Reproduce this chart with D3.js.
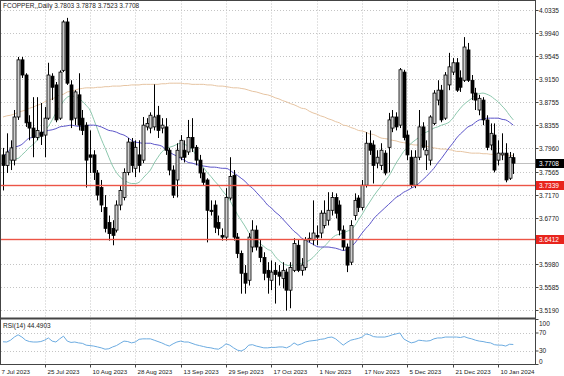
<!DOCTYPE html>
<html>
<head>
<meta charset="utf-8">
<style>
    body { margin: 0; background: #fff; }
    svg { display: block; font-family: "Liberation Sans", Arial, sans-serif; }
</style>
</head>
<body>
<script src="https://cdn.jsdelivr.net/npm/d3@7"></script>
<script>

// daily bars, oldest first
var opens = [3.785,3.767,3.776,3.776,3.850,3.948,3.922,3.841,3.831,3.815,
    3.824,3.819,3.848,3.920,3.905,3.848,3.930,4.013,3.905,3.848,
    3.888,3.848,3.836,3.785,3.785,3.754,3.729,3.695,3.669,3.659,
    3.656,3.699,3.712,3.755,3.807,3.762,3.785,3.776,3.833,3.831,
    3.833,3.853,3.831,3.833,3.793,3.759,3.742,3.781,3.793,3.790,
    3.815,3.798,3.776,3.754,3.742,3.690,3.699,3.669,3.647,3.644,
    3.711,3.750,3.644,3.616,3.582,3.570,3.627,3.656,3.627,3.609,
    3.587,3.570,3.587,3.584,3.573,3.584,3.553,3.587,3.630,3.587,
    3.592,3.639,3.639,3.647,3.651,3.664,3.673,3.690,3.712,3.699,
    3.656,3.627,3.601,3.681,3.711,3.695,3.733,3.805,3.802,3.771,
    3.767,3.788,3.798,3.831,3.850,3.836,3.927,3.819,3.781,3.733,
    3.781,3.833,3.785,3.776,3.839,3.879,3.896,3.848,3.905,3.927,
    3.943,3.917,3.913,3.965,3.913,3.891,3.862,3.879,3.845,3.802,
    3.819,3.776,3.785,3.788,3.745,3.7803];
var highs = [3.797,3.822,3.810,3.862,3.953,3.953,3.925,3.853,3.884,3.884,
    3.874,3.867,3.943,3.925,3.910,3.930,4.016,4.020,3.913,3.896,
    3.925,3.862,3.841,3.827,3.793,3.759,3.742,3.716,3.681,3.673,
    3.707,3.733,3.762,3.814,3.814,3.810,3.810,3.850,3.848,3.858,
    3.906,3.869,3.848,3.848,3.797,3.767,3.805,3.819,3.810,3.845,
    3.848,3.802,3.785,3.762,3.745,3.707,3.707,3.681,3.659,3.728,
    3.781,3.759,3.651,3.621,3.596,3.651,3.673,3.664,3.639,3.618,
    3.601,3.604,3.601,3.596,3.601,3.590,3.601,3.642,3.639,3.608,
    3.644,3.652,3.707,3.664,3.690,3.707,3.721,3.721,3.719,3.707,
    3.664,3.633,3.673,3.719,3.716,3.742,3.824,3.827,3.810,3.793,
    3.805,3.793,3.857,3.862,3.858,3.934,3.931,3.827,3.793,3.793,
    3.862,3.841,3.810,3.853,3.896,3.913,3.905,3.927,3.960,3.951,
    3.951,3.930,3.987,3.977,3.922,3.900,3.888,3.884,3.853,3.839,
    3.839,3.810,3.822,3.805,3.790,3.7878];
var lows = [3.724,3.754,3.759,3.767,3.845,3.917,3.833,3.810,3.781,3.810,
    3.802,3.781,3.845,3.879,3.841,3.845,3.927,3.905,3.831,3.836,
    3.827,3.819,3.729,3.754,3.742,3.707,3.687,3.652,3.638,3.630,
    3.652,3.690,3.707,3.750,3.755,3.747,3.755,3.771,3.827,3.822,
    3.827,3.814,3.822,3.785,3.750,3.711,3.712,3.776,3.772,3.785,
    3.790,3.767,3.745,3.733,3.635,3.681,3.651,3.647,3.638,3.638,
    3.707,3.638,3.608,3.547,3.547,3.561,3.618,3.621,3.601,3.570,
    3.547,3.553,3.530,3.561,3.556,3.518,3.522,3.584,3.584,3.578,
    3.587,3.635,3.630,3.630,3.642,3.659,3.664,3.681,3.676,3.647,
    3.621,3.584,3.596,3.673,3.687,3.690,3.729,3.785,3.736,3.762,
    3.759,3.750,3.755,3.824,3.827,3.831,3.810,3.776,3.729,3.728,
    3.776,3.793,3.759,3.767,3.836,3.870,3.841,3.845,3.896,3.922,
    3.893,3.893,3.910,3.910,3.879,3.862,3.853,3.836,3.793,3.793,
    3.755,3.767,3.776,3.738,3.742,3.7523];
var closes = [3.767,3.790,3.797,3.850,3.948,3.922,3.840,3.831,3.815,3.827,
    3.817,3.848,3.922,3.901,3.845,3.927,4.013,3.908,3.845,3.893,
    3.836,3.827,3.776,3.781,3.755,3.716,3.699,3.659,3.650,3.647,
    3.699,3.724,3.755,3.807,3.767,3.798,3.767,3.836,3.839,3.853,
    3.850,3.827,3.836,3.793,3.759,3.716,3.793,3.810,3.781,3.815,
    3.797,3.776,3.754,3.738,3.690,3.688,3.661,3.659,3.644,3.712,
    3.748,3.644,3.616,3.582,3.565,3.644,3.656,3.627,3.609,3.582,
    3.575,3.584,3.580,3.577,3.587,3.553,3.592,3.633,3.587,3.596,
    3.639,3.642,3.651,3.644,3.685,3.685,3.690,3.712,3.685,3.656,
    3.627,3.596,3.664,3.707,3.695,3.733,3.805,3.793,3.767,3.781,
    3.793,3.754,3.845,3.850,3.833,3.931,3.815,3.785,3.733,3.781,
    3.833,3.798,3.793,3.850,3.891,3.896,3.845,3.922,3.936,3.943,
    3.896,3.901,3.970,3.913,3.891,3.879,3.882,3.845,3.798,3.822,
    3.759,3.788,3.788,3.742,3.781,3.7708];

// moving averages
var maFast = [null,3.767,3.773,3.778,3.779,3.785,3.791,3.798,3.803,3.810,
    3.817,3.826,3.834,3.845,3.857,3.867,3.877,3.884,3.886,3.885,
    3.882,3.877,3.870,3.862,3.846,3.829,3.812,3.797,3.781,3.766,
    3.755,3.747,3.742,3.738,3.736,3.736,3.738,3.745,3.752,3.759,
    3.771,3.781,3.790,3.795,3.798,3.800,3.803,3.805,3.803,3.800,
    3.795,3.785,3.774,3.764,3.755,3.748,3.740,3.733,3.724,3.716,
    3.707,3.695,3.683,3.673,3.663,3.652,3.644,3.639,3.633,3.628,
    3.623,3.620,3.611,3.604,3.599,3.596,3.595,3.596,3.597,3.599,
    3.601,3.604,3.609,3.616,3.623,3.628,3.635,3.642,3.647,3.649,
    3.651,3.654,3.657,3.663,3.673,3.683,3.694,3.704,3.714,3.723,
    3.731,3.740,3.748,3.759,3.771,3.781,3.791,3.798,3.805,3.810,
    3.815,3.821,3.824,3.827,3.831,3.833,3.836,3.838,3.841,3.848,
    3.857,3.865,3.872,3.877,3.882,3.888,3.890,3.891,3.889,3.886,
    3.881,3.876,3.869,3.862,3.853,3.845];
var maMid = [3.781,3.788,3.795,3.798,3.800,3.803,3.809,3.814,3.815,3.819,
    3.822,3.825,3.827,3.828,3.830,3.833,3.834,3.835,3.836,3.835,
    3.834,3.834,3.835,3.836,3.836,3.835,3.833,3.830,3.827,3.826,
    3.824,3.821,3.819,3.815,3.810,3.807,3.806,3.805,3.805,3.805,
    3.803,3.802,3.800,3.795,3.790,3.786,3.783,3.779,3.776,3.772,
    3.771,3.769,3.767,3.766,3.765,3.764,3.764,3.763,3.762,3.762,
    3.759,3.754,3.750,3.745,3.740,3.733,3.728,3.721,3.714,3.707,
    3.699,3.694,3.687,3.682,3.675,3.668,3.661,3.654,3.649,3.642,
    3.639,3.635,3.632,3.628,3.627,3.627,3.627,3.626,3.625,3.623,
    3.621,3.623,3.628,3.633,3.642,3.651,3.659,3.666,3.675,3.682,
    3.688,3.694,3.700,3.706,3.712,3.716,3.721,3.724,3.728,3.731,
    3.736,3.742,3.748,3.755,3.762,3.771,3.779,3.788,3.797,3.805,
    3.814,3.821,3.827,3.833,3.836,3.841,3.845,3.846,3.848,3.848,
    3.848,3.848,3.846,3.845,3.841,3.836];
var maSlow = [3.850,3.852,3.853,3.855,3.858,3.860,3.862,3.865,3.867,3.870,
    3.872,3.876,3.879,3.881,3.884,3.888,3.889,3.893,3.894,3.896,
    3.898,3.899,3.900,3.900,3.900,3.901,3.901,3.902,3.902,3.903,
    3.903,3.903,3.904,3.904,3.905,3.905,3.905,3.906,3.906,3.906,
    3.906,3.906,3.907,3.907,3.908,3.908,3.908,3.908,3.907,3.907,
    3.906,3.906,3.906,3.906,3.905,3.905,3.904,3.903,3.903,3.902,
    3.901,3.900,3.900,3.899,3.898,3.896,3.894,3.893,3.891,3.889,
    3.888,3.886,3.883,3.881,3.878,3.876,3.873,3.871,3.868,3.865,
    3.864,3.860,3.857,3.855,3.852,3.850,3.847,3.845,3.842,3.840,
    3.836,3.835,3.832,3.830,3.827,3.826,3.824,3.821,3.820,3.817,
    3.814,3.813,3.812,3.810,3.809,3.807,3.806,3.805,3.803,3.802,
    3.802,3.801,3.800,3.798,3.797,3.796,3.795,3.795,3.794,3.793,
    3.791,3.791,3.790,3.789,3.788,3.788,3.788,3.787,3.787,3.786,
    3.786,3.786,3.785,3.785,3.784,3.784];

var rsi = [50.5,50,54,61,66,61,54,51,50,50,
    51,54,59,52,50,57,63,52,49,50,
    48,47,43,42,41,39,37,34,35,39,
    42,47,52,51,48,50,56,57,57,57,
    54,51,48,44,41,46,50,52,50,50,
    47,44,42,40,38,37,35,34,39,46,
    43,37,32,30,34,43,44,41,39,37,
    37,38,38,39,39,37,41,48,43,46,
    50,52,53,54,56,57,60,61,57,50,
    43,49,54,56,58,61,68,66,62,61,
    61,61,63,66,68,70,57,52,48,50,
    54,53,52,53,57,59,59,61,61,61,
    61,60,62,59,57,54,52,51,49,48,
    44,43,43,41,45,44.4903];

var priceTicks = ["4.0335","3.9940","3.9545","3.9150","3.8755","3.8355","3.7960","3.7565","3.7170","3.6770","3.5980","3.5585","3.5190"];
var rsiTicks = [100, 70, 30, 0];
var rsiLevels = [70, 30];
var dateIdx = [-1, 11, 23, 35, 47, 59, 71, 83, 95, 107, 119, 131];
var dateLabels = ["7 Jul 2023","25 Jul 2023","10 Aug 2023","28 Aug 2023","13 Sep 2023","29 Sep 2023",
    "17 Oct 2023","1 Nov 2023","17 Nov 2023","5 Dec 2023","21 Dec 2023","10 Jan 2024"];
var levels = [3.7339, 3.6412];
var lastPrice = 3.7708;

var W = 564, H = 376;
var plotR = 535.5;
var mainBot = 318.5, rsiTop = 319.5, rsiBot = 364.5;

var svg = d3.select("body").append("svg").attr("width", W).attr("height", H);
svg.append("rect").attr("width", W).attr("height", H).attr("fill", "#fff");

var x = d3.scaleLinear().domain([0, 135]).range([3, 513.3]);
var y = d3.scaleLinear().domain([3.5190, 4.0335]).range([310, 10]);
var yr = d3.scaleLinear().domain([0, 100]).range([rsiBot, rsiTop]);

var defs = svg.append("defs");
defs.append("clipPath").attr("id", "cm").append("rect")
    .attr("x", 0.5).attr("y", 0.5).attr("width", plotR - 0.5).attr("height", mainBot - 1);
defs.append("clipPath").attr("id", "cr").append("rect")
    .attr("x", 0.5).attr("y", rsiTop).attr("width", plotR - 0.5).attr("height", rsiBot - rsiTop);

var grid = "#c4c4c4";

// grids
svg.append("g").selectAll("line").data(priceTicks).enter().append("line")
    .attr("x1", 1).attr("x2", plotR)
    .attr("y1", function(d) { return Math.round(y(+d)) + 0.5; })
    .attr("y2", function(d) { return Math.round(y(+d)) + 0.5; })
    .attr("stroke", grid).attr("stroke-dasharray", "1,2");
var vg = dateIdx.filter(function(d) { return d >= 0; });
[[0.5, mainBot], [rsiTop, rsiBot]].forEach(function(p) {
    svg.append("g").selectAll("line").data(vg).enter().append("line")
        .attr("x1", function(d) { return Math.round(x(d)) + 0.5; })
        .attr("x2", function(d) { return Math.round(x(d)) + 0.5; })
        .attr("y1", p[0]).attr("y2", p[1])
        .attr("stroke", grid).attr("stroke-dasharray", "1,2");
});
svg.append("g").selectAll("line").data(rsiLevels).enter().append("line")
    .attr("x1", 1).attr("x2", plotR)
    .attr("y1", function(d) { return Math.round(yr(d)) + 0.5; })
    .attr("y2", function(d) { return Math.round(yr(d)) + 0.5; })
    .attr("stroke", grid).attr("stroke-dasharray", "1,2");

var main = svg.append("g").attr("clip-path", "url(#cm)");

// bid line
main.append("line").attr("x1", 0).attr("x2", plotR)
    .attr("y1", Math.round(y(lastPrice)) + 0.5).attr("y2", Math.round(y(lastPrice)) + 0.5)
    .attr("stroke", "#c0c0c0");

// moving averages
function maLine(arr, col) {
    var line = d3.line()
        .defined(function(d) { return d != null; })
        .x(function(d, i) { return x(i); })
        .y(function(d) { return y(d); })
        .curve(d3.curveMonotoneX);
    main.append("path").datum(arr).attr("d", line)
        .attr("fill", "none").attr("stroke", col).attr("stroke-width", 1);
}
maLine(maSlow, "#e6c4a2");
maLine(maFast, "#8cc7ad");
maLine(maMid, "#5b54c8");

// candles
var idx = d3.range(closes.length);
var c = main.append("g").selectAll("g").data(idx).enter().append("g");
c.append("line")
    .attr("x1", function(i) { return Math.round(x(i)) + 0.5; })
    .attr("x2", function(i) { return Math.round(x(i)) + 0.5; })
    .attr("y1", function(i) { return y(highs[i]); })
    .attr("y2", function(i) { return y(lows[i]); })
    .attr("stroke", "#000").attr("stroke-width", 1);
c.append("rect")
    .attr("x", function(i) { return Math.round(x(i)) - 1; })
    .attr("width", 3)
    .attr("y", function(i) { return Math.min(y(opens[i]), y(closes[i])); })
    .attr("height", function(i) { return Math.max(1, Math.abs(y(opens[i]) - y(closes[i]))); })
    .attr("fill", function(i) { return closes[i] >= opens[i] ? "#cfcfcf" : "#000"; })
    .attr("stroke", "#000").attr("stroke-width", 0.8);

// support lines, drawn over the candles
svg.append("g").selectAll("rect").data(levels).enter().append("rect")
    .attr("x", 1).attr("width", plotR - 1)
    .attr("y", function(d) { return Math.round(y(d)) - 0.2; })
    .attr("height", 1.4)
    .attr("fill", "#ec5446");

// rsi
var rsiLine = d3.line().x(function(d, i) { return x(i); }).y(function(d) { return yr(d); });
svg.append("g").attr("clip-path", "url(#cr)").append("path").datum(rsi).attr("d", rsiLine)
    .attr("fill", "none").attr("stroke", "#6cabe0").attr("stroke-width", 1);

// frames
svg.append("rect").attr("x", 0.5).attr("y", 0.5).attr("width", plotR - 0.5).attr("height", rsiBot - 0.5)
    .attr("fill", "none").attr("stroke", "#444");
svg.append("line").attr("x1", 0).attr("x2", plotR).attr("y1", mainBot).attr("y2", mainBot)
    .attr("stroke", "#444").attr("stroke-width", 2);

// price axis labels
var ax = svg.append("g").attr("font-size", "6.5px").attr("fill", "#222");
priceTicks.forEach(function(t) {
    var yy = Math.round(y(+t)) + 0.5;
    ax.append("line").attr("x1", plotR).attr("x2", plotR + 3).attr("y1", yy).attr("y2", yy).attr("stroke", "#444");
    ax.append("text").attr("x", 539).attr("y", yy + 2.3).text(t);
});
levels.forEach(function(v) {
    var yy = Math.round(y(v)) + 0.5;
    ax.append("rect").attr("x", 536).attr("y", yy - 4.5).attr("width", 28).attr("height", 9).attr("fill", "#e8241d");
    ax.append("text").attr("x", 539).attr("y", yy + 2.3).attr("fill", "#fff").text(v.toFixed(4));
});
var ly = Math.round(y(lastPrice)) + 0.5;
ax.append("rect").attr("x", 536).attr("y", ly - 4.5).attr("width", 28).attr("height", 9).attr("fill", "#000");
ax.append("text").attr("x", 539).attr("y", ly + 2.3).attr("fill", "#fff").text(lastPrice.toFixed(4));

rsiTicks.forEach(function(t) {
    var yy = Math.min(Math.max(yr(t), 324), 362);
    ax.append("line").attr("x1", plotR).attr("x2", plotR + 3).attr("y1", yr(t)).attr("y2", yr(t)).attr("stroke", "#444");
    ax.append("text").attr("x", 539).attr("y", yy + 2.3).text(t);
});

// dates
dateIdx.forEach(function(d, k) {
    var xx = Math.round(x(d)) + 0.5;
    ax.append("line").attr("x1", xx).attr("x2", xx).attr("y1", rsiBot).attr("y2", rsiBot + 3).attr("stroke", "#444");
    ax.append("text").attr("x", xx + 2).attr("y", 374).attr("font-size", "6.2px").text(dateLabels[k]);
});

// titles
svg.append("text").attr("x", 3).attr("y", 8).attr("font-size", "6.5px").attr("fill", "#222")
    .text("FCOPPER,,Daily  3.7803 3.7878 3.7523 3.7708");
svg.append("text").attr("x", 3).attr("y", 328).attr("font-size", "6.5px").attr("fill", "#222")
    .text("RSI(14) 44.4903");

</script>
</body>
</html>
